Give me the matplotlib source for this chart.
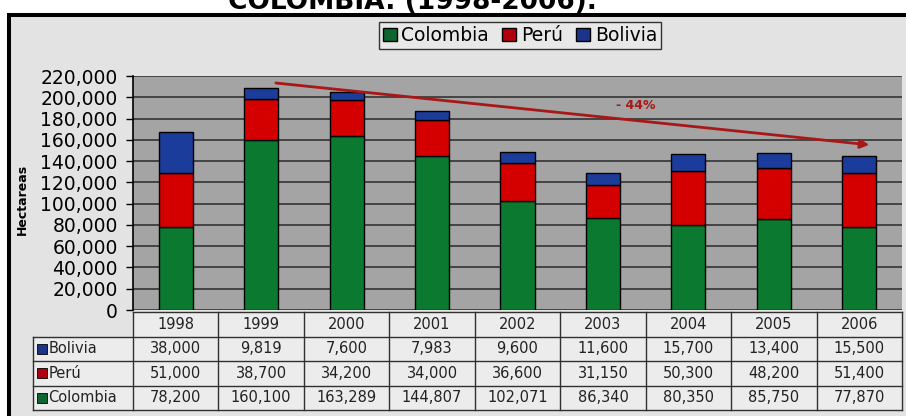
import numpy as np
import matplotlib.pyplot as plt
from matplotlib.patches import Rectangle, Patch
from matplotlib.ticker import FuncFormatter, MultipleLocator

years = ['1998', '1999', '2000', '2001', '2002', '2003', '2004', '2005', '2006']
colombia = [78200, 160100, 163289, 144807, 102071, 86340, 80350, 85750, 77870]
peru = [51000, 38700, 34200, 34000, 36600, 31150, 50300, 48200, 51400]
bolivia = [38000, 9819, 7600, 7983, 9600, 11600, 15700, 13400, 15500]
series = ['Bolivia', 'Perú', 'Colombia']

GREEN = '#0b7a30'
RED = '#d40000'
BLUE = '#1c3c9c'
KEY = {'Colombia': '#0f6530', 'Perú': '#b00010', 'Bolivia': '#1a3588'}

W, H = 906, 416
fig = plt.figure(figsize=(W / 100, H / 100), dpi=100, facecolor='white')
plt.rcParams['font.family'] = ['DejaVu Sans']

def fx(px):
    return px / W

def fy(px):
    return 1 - px / H

# frame behind everything
fig.add_artist(Rectangle((fx(9), -0.1), 1.2, fy(15) + 0.1, transform=fig.transFigure,
                         facecolor='#e3e3e3', edgecolor='black', lw=2.9, zorder=0))

fig.text(fx(412), fy(9), 'COLOMBIA: (1998-2006).', ha='center', va='baseline',
         fontsize=19, fontweight='bold', color='black')

# main chart
ax = fig.add_axes([fx(133), fy(310), fx(902) - fx(133), fy(76) - fy(310)])
ax.set_facecolor('#a4a4a4')
x = np.arange(len(years))
bw = 0.4
ax.bar(x, colombia, bw, color=GREEN, edgecolor='black', lw=1, zorder=3)
ax.bar(x, peru, bw, bottom=colombia, color=RED, edgecolor='black', lw=1, zorder=3)
ax.bar(x, bolivia, bw, bottom=np.add(colombia, peru), color=BLUE, edgecolor='black', lw=1, zorder=3)

ax.set_xlim(-0.5, len(years) - 0.5)
ax.set_ylim(0, 220000)
ax.yaxis.set_major_locator(MultipleLocator(20000))
ax.yaxis.set_major_formatter(FuncFormatter(lambda v, p: f'{int(v):,}'))
ax.grid(axis='y', color='#2a2a2a', lw=1.1, zorder=1)
ax.set_xticks([])
ax.tick_params(axis='y', length=5, width=1, pad=6, labelsize=13.5, colors='black')
for s in ['top', 'right', 'bottom']:
    ax.spines[s].set_visible(False)
ax.spines['left'].set_linewidth(1.2)

# trend arrow
ax.annotate('', xy=(8.15, 155000), xytext=(1.14, 213700),
            arrowprops=dict(arrowstyle='-|>', color='#a81818', lw=2.0, mutation_scale=13),
            zorder=4)
ax.text(5.38, 191800, '- 44%', color='#a81818', fontsize=9, fontweight='bold',
        ha='center', va='center', zorder=4)

fig.text(fx(22), fy(199), 'Hectareas', rotation=90, ha='center', va='center',
         fontsize=9, fontweight='bold')

# legend
handles = [Patch(facecolor=KEY[n], edgecolor='black', lw=1) for n in ['Colombia', 'Perú', 'Bolivia']]
fig.legend(handles, ['Colombia', 'Perú', 'Bolivia'], ncol=3, loc='center',
           bbox_to_anchor=(fx(520), fy(35.5)), fontsize=13.5, frameon=True, fancybox=False,
           edgecolor='#333333', facecolor='#e8e8e8', framealpha=1,
           handlelength=0.75, handleheight=0.75, handletextpad=0.25, columnspacing=0.7,
           borderpad=0.2, borderaxespad=0)

# data table under the bars
tab = fig.add_axes([fx(33), fy(410), fx(902) - fx(33), fy(312) - fy(410)])
lab_w = 100 / 85.44
x0 = -0.5 - lab_w
tab.set_xlim(x0, len(years) - 0.5)
tab.set_ylim(0, 4)
tab.axis('off')
tab.add_patch(Rectangle((-0.5, 0), len(years), 4, facecolor='#ececec', edgecolor='none'))
tab.add_patch(Rectangle((x0, 0), lab_w, 3, facecolor='#ececec', edgecolor='none'))
lc = '#303030'
tab.plot([-0.5, len(years) - 0.5], [4, 4], color=lc, lw=1, clip_on=False)
for yy in [0, 1, 2, 3]:
    tab.plot([x0, len(years) - 0.5], [yy, yy], color=lc, lw=1, clip_on=False)
for k in range(len(years) + 1):
    tab.plot([k - 0.5, k - 0.5], [0, 4], color=lc, lw=1, clip_on=False)
tab.plot([x0, x0], [0, 3], color=lc, lw=1, clip_on=False)

for i, yr in enumerate(years):
    tab.text(i, 3.5, yr, ha='center', va='center', fontsize=10.5, color='#222222')

rows = {'Bolivia': bolivia, 'Perú': peru, 'Colombia': colombia}
for r, name in enumerate(series):
    yc = 2.5 - r
    tab.add_patch(Rectangle((x0 + 0.045, yc - 0.2), 0.12, 0.4, facecolor=KEY[name],
                            edgecolor='black', lw=0.6))
    tab.text(x0 + 0.18, yc, name, ha='left', va='center', fontsize=10.5, color='#222222')
    for i, v in enumerate(rows[name]):
        tab.text(i, yc, f'{v:,}', ha='center', va='center', fontsize=10.5, color='#222222')

fig.savefig('out.png', dpi=100)
